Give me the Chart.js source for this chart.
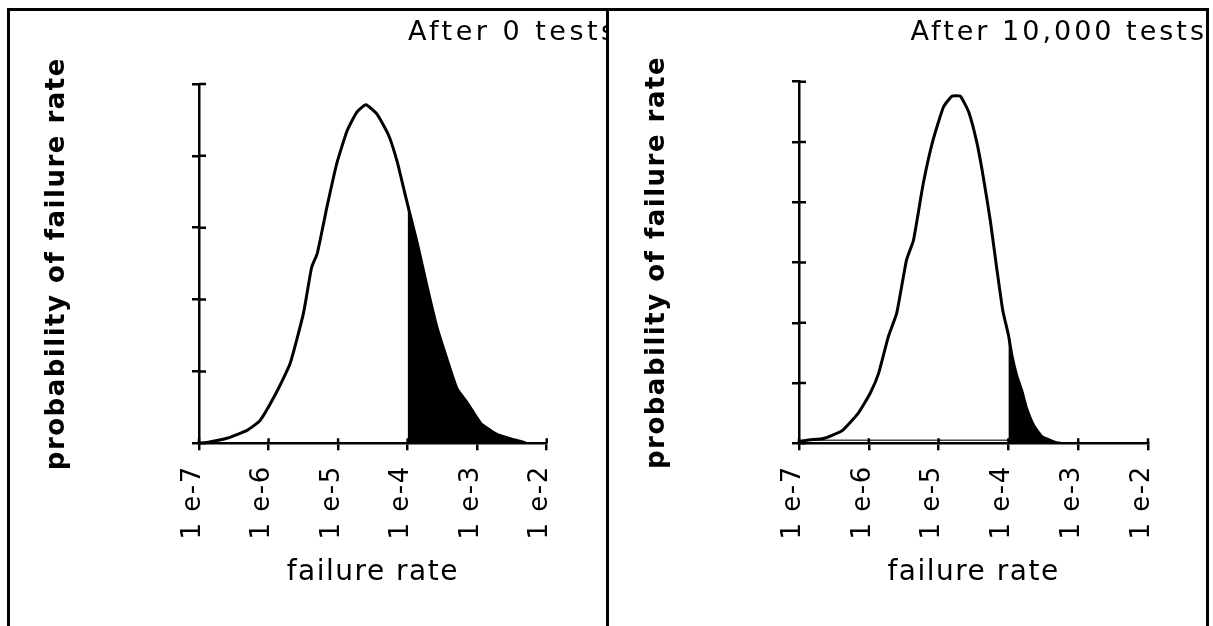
<!DOCTYPE html>
<html>
<head>
<meta charset="utf-8">
<title>failure rate</title>
<script src="https://cdn.jsdelivr.net/npm/chart.js@4/dist/chart.umd.min.js"></script>
<style>
  body { margin: 0; background: #fff; overflow: hidden; }
  .panel { position: absolute; top: 8px; height: 700px; border: 3px solid #000; background: #fff; }
  #left { left: 7px; width: 600px; }
  #right { left: 606px; width: 597px; }
  canvas { position: absolute; left: 0; top: 0; }
</style>
</head>
<body>
<div class="panel" id="left"><canvas id="beforeChart" width="600" height="615"></canvas></div>
<div class="panel" id="right"><canvas id="afterChart" width="597" height="615"></canvas></div>
<script>
// x axis is log10(failure rate)
const tickExponents = [-7, -6, -5, -4, -3, -2];
const tickLabels = ["1 e-7", "1 e-6", "1 e-5", "1 e-4", "1 e-3", "1 e-2"];
const cutoffExp = -4; // shaded tail starts at 1e-4

// after 0 tests
const beforeLogRate = [-7.0, -6.85, -6.6, -6.31, -6.12, -5.88, -5.69, -5.5, -5.38, -5.3, -5.16, -5.02, -4.87, -4.73, -4.6,
  -4.44, -4.27, -4.15, -4.07, -4.0, -3.86, -3.72, -3.58, -3.43, -3.29, -3.14, -2.95, -2.71, -2.47, -2.35, -2.3];
const beforeProb = [0, 0.02, 0.07, 0.18, 0.32, 0.72, 1.11, 1.8, 2.45, 2.64, 3.29, 3.89, 4.35, 4.61, 4.71,
  4.58, 4.28, 3.92, 3.6, 3.32, 2.78, 2.18, 1.62, 1.16, 0.76, 0.56, 0.28, 0.12, 0.05, 0.02, 0];

// after 10,000 tests
const afterLogRate = [-7.0, -6.89, -6.65, -6.51, -6.37, -6.15, -5.98, -5.86, -5.72, -5.6, -5.46, -5.36, -5.22, -5.08, -4.93,
  -4.81, -4.69, -4.57, -4.45, -4.36, -4.26, -4.17, -4.08, -4.0, -3.95, -3.88, -3.81, -3.74, -3.64, -3.52, -3.38, -3.31, -3.25];
const afterProb = [0.02, 0.05, 0.08, 0.14, 0.22, 0.5, 0.83, 1.16, 1.77, 2.16, 3.04, 3.37, 4.31, 5.03, 5.58,
  5.76, 5.76, 5.5, 4.98, 4.42, 3.7, 2.93, 2.2, 1.8, 1.46, 1.12, 0.88, 0.58, 0.3, 0.11, 0.04, 0.01, 0];
const afterBaseRate = [-7, -4];
const afterBaseProb = [0.05, 0.05];

const beforeYMax = 5;
const afterYMax = 6;

// draws the inside half of the axis ticks
const innerTicks = {
  id: "innerTicks",
  afterDraw(chart) {
    const ctx = chart.ctx;
    const xs = chart.scales.x;
    const ys = chart.scales.y;
    ctx.save();
    ctx.strokeStyle = "#000";
    ctx.lineWidth = 2.5;
    ctx.beginPath();
    ys.ticks.forEach((t, i) => {
      const py = ys.getPixelForTick(i);
      ctx.moveTo(xs.left, py);
      ctx.lineTo(xs.left + 7, py);
    });
    xs.ticks.forEach((t, i) => {
      const px = xs.getPixelForTick(i);
      ctx.moveTo(px, ys.bottom);
      ctx.lineTo(px, ys.bottom - 5);
    });
    ctx.stroke();
    ctx.restore();
  }
};

// wide spacing like the old screen font
const spacing = {
  id: "spacing",
  beforeDraw(chart) {
    chart.ctx.letterSpacing = "1.5px";
  }
};

const cornerTitle = {
  id: "cornerTitle",
  afterDraw(chart, args, opts) {
    const ctx = chart.ctx;
    ctx.save();
    ctx.font = "27px 'DejaVu Sans'";
    ctx.letterSpacing = opts.spacing + "px";
    ctx.fillStyle = "#000";
    ctx.textAlign = opts.align;
    ctx.textBaseline = "alphabetic";
    ctx.fillText(opts.text, opts.x, opts.y);
    ctx.restore();
  }
};

function toPoints(xs, ys) {
  return xs.map((x, i) => ({ x: x, y: ys[i] }));
}

function makeChart(canvasId, logRate, prob, yMax, extra, box) {
  const points = toPoints(logRate, prob);
  const tail = points.filter((p) => p.x >= cutoffExp);
  const datasets = [
    { data: points, borderColor: "#000", borderWidth: 3, fill: false },
    { data: tail, borderWidth: 0, backgroundColor: "#000", fill: "origin" },
  ];
  if (extra) datasets.push(extra);

  return new Chart(document.getElementById(canvasId), {
    type: "line",
    data: { datasets: datasets },
    plugins: [spacing, innerTicks, cornerTitle],
    options: {
      responsive: false,
      animation: false,
      events: [],
      layout: { padding: { top: box.top, right: box.right, bottom: 0, left: 0 } },
      elements: {
        point: { radius: 0 },
        line: { tension: 0.15, borderJoinStyle: "round" },
      },
      plugins: {
        legend: { display: false },
        tooltip: { enabled: false },
        title: { display: false },
        cornerTitle: box.title,
      },
      scales: {
        x: {
          type: "linear",
          min: -7,
          max: -2,
          afterFit: (s) => { s.height = 615 - 432.3; },
          afterBuildTicks: (s) => { s.ticks = tickExponents.map((v) => ({ value: v })); },
          border: { color: "#000", width: 2.5 },
          grid: { drawOnChartArea: false, color: "#000", lineWidth: 2.5, tickLength: 7 },
          ticks: {
            autoSkip: false,
            minRotation: 90,
            maxRotation: 90,
            padding: 15,
            labelOffset: -6,
            color: "#000",
            font: { family: "DejaVu Sans", size: 26 },
            callback: (v) => tickLabels[tickExponents.indexOf(v)],
          },
          title: {
            display: true,
            text: "failure rate",
            color: "#000",
            font: { family: "DejaVu Sans", size: 28 },
            padding: { top: 0, bottom: 36 },
          },
        },
        y: {
          min: 0,
          max: yMax,
          afterFit: (s) => { s.width = box.left; },
          border: { color: "#000", width: 2.5 },
          grid: { drawOnChartArea: false, color: "#000", lineWidth: 2.5, tickLength: 7 },
          ticks: { stepSize: 1, display: false },
          title: {
            display: true,
            text: "probability of failure rate",
            color: "#000",
            font: { family: "DejaVu Sans", size: 26, weight: "bold" },
            padding: { top: box.titlePad, bottom: 0 },
          },
        },
      },
    },
  });
}

makeChart("beforeChart", beforeLogRate, beforeProb, beforeYMax, null, {
  top: 73, right: 63.3, left: 189, titlePad: 32,
  title: { text: "After 0 tests", x: 398, y: 29, align: "left", spacing: 3.5 },
});

makeChart("afterChart", afterLogRate, afterProb, afterYMax,
  { data: toPoints(afterBaseRate, afterBaseProb), borderColor: "#444", borderWidth: 1.5, fill: false, tension: 0 },
  {
    top: 70.7, right: 58, left: 190, titlePad: 33,
    title: { text: "After 10,000 tests", x: 598, y: 29, align: "right", spacing: 3 },
  });
</script>
</body>
</html>
